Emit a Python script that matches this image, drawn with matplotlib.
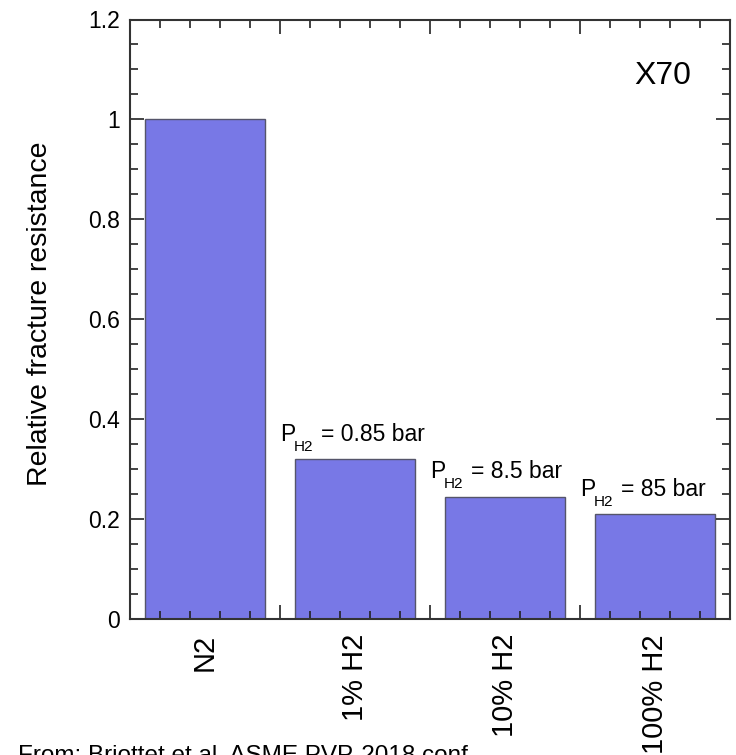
import matplotlib
matplotlib.use("Agg")
import matplotlib.pyplot as plt
from matplotlib.ticker import MultipleLocator
import numpy as np

plt.rcParams['font.family'] = ['Liberation Sans', 'DejaVu Sans']

# data
categories = ["N2", "1% H2", "10% H2", "100% H2"]
resistance = [1.0, 0.32, 0.245, 0.21]
pressure_notes = [None, "0.85 bar", "8.5 bar", "85 bar"]

fig = plt.figure(figsize=(7.36, 7.55), dpi=100)
ax = fig.add_axes([130 / 736, 136 / 755, 600 / 736, 599.5 / 755])

xpos = np.arange(len(categories)) + 0.5
ax.bar(xpos, resistance, width=0.8, color="#7878e6", edgecolor="#55556a",
       linewidth=1.0, zorder=1)

# pressure annotations above the hydrogen bars: P, subscript H2, "= ..."
for x, h, note in zip(xpos, resistance, pressure_notes):
    if note is None:
        continue
    anchor = (x - 0.5, h + 0.037)
    ax.annotate("P", anchor, fontsize=16.5, ha="left", va="baseline")
    ax.annotate("H2", anchor, xytext=(14, -10), textcoords="offset pixels",
                fontsize=11, ha="left", va="baseline")
    ax.annotate("= " + note, anchor, xytext=(41, 0), textcoords="offset pixels",
                fontsize=16.5, ha="left", va="baseline")

ax.text(0.935, 0.905, "X70", transform=ax.transAxes, fontsize=23,
        ha="right", va="center")

ax.set_xlim(0, 4)
ax.set_ylim(0, 1.2)

ax.xaxis.set_major_locator(MultipleLocator(1))
ax.xaxis.set_minor_locator(MultipleLocator(0.2))
ax.yaxis.set_major_locator(MultipleLocator(0.2))
ax.yaxis.set_minor_locator(MultipleLocator(0.05))
ax.set_xticklabels([])
ax.set_yticks([0, 0.2, 0.4, 0.6, 0.8, 1.0, 1.2])
ax.set_yticklabels(["0", "0.2", "0.4", "0.6", "0.8", "1", "1.2"])

ax.tick_params(which="both", direction="in", top=True, right=True,
               width=1.2, color="#222222")
ax.tick_params(which="major", length=10)
ax.tick_params(which="minor", length=6)
ax.tick_params(axis="y", which="major", labelsize=16.5, pad=7)

# category labels, rotated, hung below the axis
for x, name in zip(xpos, categories):
    ax.text(x, -0.025, name, fontsize=21, rotation=90, ha="center",
            va="top", transform=ax.get_xaxis_transform(), clip_on=False)

for sp in ax.spines.values():
    sp.set_linewidth(1.5)
    sp.set_color("#333333")

ax.set_ylabel("Relative fracture resistance", fontsize=20.5)
ax.yaxis.set_label_coords(-0.128, 0.51)

fig.text(18 / 736, 1 - 745 / 755, "From: Briottet et al. ASME PVP-2018 conf.",
         fontsize=17.5, ha="left", va="top")

fig.savefig("out.png", dpi=100)
